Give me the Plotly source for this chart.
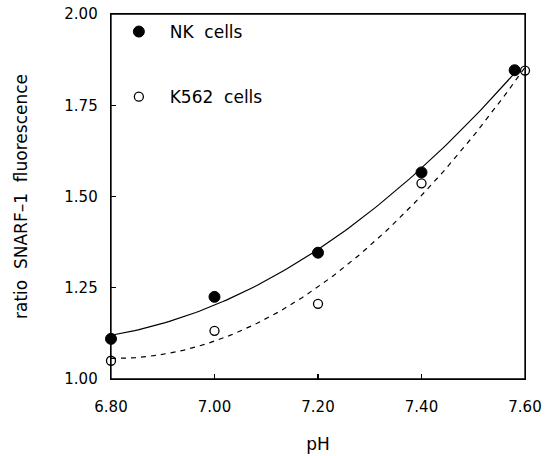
import numpy as np
import plotly.graph_objects as go

# Data
ph_nk = [6.80, 7.00, 7.20, 7.40, 7.58]
ratio_nk = [1.11, 1.225, 1.346, 1.566, 1.846]

ph_k562 = [6.80, 7.00, 7.20, 7.40, 7.60]
ratio_k562 = [1.05, 1.132, 1.206, 1.536, 1.845]

x_ticks = [6.80, 7.00, 7.20, 7.40, 7.60]
x_ticklabels = ["6.80", "7.00", "7.20", "7.40", "7.60"]
y_ticks = [1.00, 1.25, 1.50, 1.75, 2.00]
y_ticklabels = ["1.00", "1.25", "1.50", "1.75", "2.00"]

# Quadratic fit curves (as in the original regression lines)
c_nk = np.polyfit(ph_nk, ratio_nk, 2)
c_k = np.polyfit(ph_k562, ratio_k562, 2)
xf_nk = np.linspace(min(ph_nk), max(ph_nk), 120)
xf_k = np.linspace(min(ph_k562), max(ph_k562), 120)

FONT = "DejaVu Sans"

fig = go.Figure()
fig.add_trace(go.Scatter(x=xf_nk, y=np.polyval(c_nk, xf_nk), mode="lines",
                         line=dict(color="black", width=1.2), showlegend=False,
                         hoverinfo="skip"))
fig.add_trace(go.Scatter(x=xf_k, y=np.polyval(c_k, xf_k), mode="lines",
                         line=dict(color="black", width=1.2, dash="5px,5px"),
                         showlegend=False, hoverinfo="skip"))
fig.add_trace(go.Scatter(x=ph_nk, y=ratio_nk, mode="markers",
                         name="\u00a0\u00a0NK\u00a0\u00a0cells", legendgroup="a",
                         marker=dict(symbol="circle", size=11, color="black",
                                     line=dict(color="black", width=1)),
                         cliponaxis=False))
fig.add_trace(go.Scatter(x=ph_k562, y=ratio_k562, mode="markers",
                         name="\u00a0\u00a0K562\u00a0\u00a0cells", legendgroup="b",
                         marker=dict(symbol="circle-open", size=9, color="black",
                                     line=dict(color="black", width=1.3)),
                         cliponaxis=False))

axis_common = dict(showline=True, linecolor="black", linewidth=1.3, mirror=True,
                   ticks="inside", ticklen=5, tickwidth=1.2, tickcolor="black",
                   showgrid=False, zeroline=False, automargin=False,
                   ticklabeloverflow="allow",
                   tickfont=dict(family=FONT, size=15, color="black"))

fig.update_xaxes(range=[6.80, 7.60], tickmode="array", tickvals=x_ticks,
                 ticktext=x_ticklabels, ticklabelstandoff=14,
                 title=dict(text="pH", font=dict(family=FONT, size=17, color="black"),
                            standoff=22),
                 **axis_common)
fig.update_yaxes(range=[1.00, 2.00], tickmode="array", tickvals=y_ticks,
                 ticktext=y_ticklabels, ticklabelstandoff=9,
                 title=dict(text="ratio\u00a0\u00a0SNARF\u20131\u00a0\u00a0fluorescence",
                            font=dict(family=FONT, size=17, color="black"),
                            standoff=32),
                 **axis_common)

# Frame around the plotting area
fig.add_shape(type="rect", xref="x domain", yref="y domain", x0=0, x1=1, y0=0, y1=1,
              line=dict(color="black", width=1.3), fillcolor="rgba(0,0,0,0)",
              layer="below")

fig.update_layout(
    width=546, height=456,
    margin=dict(l=111, r=21, t=14, b=77),
    paper_bgcolor="white", plot_bgcolor="white",
    font=dict(family=FONT, color="black"),
    legend=dict(x=0.019, y=1.0, xanchor="left", yanchor="top",
                bgcolor="rgba(0,0,0,0)", tracegroupgap=40,
                font=dict(family=FONT, size=17, color="black")),
)

# Remove the browser's default 8px body margin so the figure fills the window
fig.write_html("out.html",
               config={"displayModeBar": False, "staticPlot": True},
               post_script="document.body.style.margin='0';"
                           "document.body.style.overflow='hidden';")
